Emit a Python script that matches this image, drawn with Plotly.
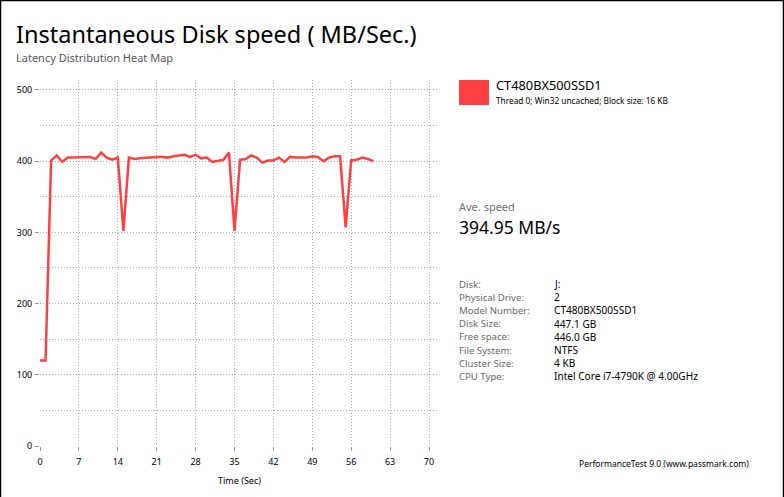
import plotly.graph_objects as go

# ---- data ----
time_sec = list(range(0, 61))
speed_mbs = [120, 120, 401, 408, 399, 405, 405, 405, 405, 406, 403, 412, 405, 402, 405, 302,
             405, 403, 404, 405, 406, 406, 406, 405, 407, 408, 409, 406, 409, 404, 405,
             399, 401, 402, 412, 302, 402, 403, 408, 405, 398, 401, 401, 405, 399, 406,
             405, 405, 405, 407, 406, 400, 405, 407, 407, 307, 401, 402, 405, 403, 400]
x_ticks = [0, 7, 14, 21, 28, 35, 42, 49, 56, 63, 70]
y_ticks = [0, 100, 200, 300, 400, 500]

device_name = "CT480BX500SSD1"
device_desc = "Thread 0; Win32 uncached; Block size: 16 KB"
avg_label = "Ave. speed"
avg_value = "394.95 MB/s"
info_labels = ["Disk:", "Physical Drive:", "Model Number:", "Disk Size:", "Free space:",
               "File System:", "Cluster Size:", "CPU Type:"]
info_values = ["J:", "2", "CT480BX500SSD1", "447.1 GB", "446.0 GB", "NTFS", "4 KB",
               "Intel Core i7-4790K @ 4.00GHz"]

W, H = 784, 497
L, R, T, B = 40, 345, 80, 51
PW, PH = W - L - R, H - T - B
FONT = "Noto Sans"
GRID = "#aaaaaa"

def px(x):
    return (x - L) / PW

def py(y):
    return (H - B - y) / PH

fig = go.Figure()
fig.add_trace(go.Scatter(x=time_sec, y=speed_mbs, mode="lines",
                         line=dict(color="#ff4040", width=2.5), hoverinfo="skip"))

axis_common = dict(showline=False, zeroline=False, ticks="outside", ticklen=4,
                   tickcolor="#999999", showgrid=True, gridcolor=GRID,
                   griddash="1px,2px", gridwidth=1,
                   tickfont=dict(family=FONT, size=9, color="#000000"))
fig.update_xaxes(range=[0, 71.8], tickvals=x_ticks, ticklabelstandoff=3, **axis_common,
                 title=dict(text="Time (Sec)", font=dict(family=FONT, size=9, color="#000"),
                            standoff=10))
fig.update_yaxes(range=[0, 514], tickvals=y_ticks, ticklabelstandoff=1, **axis_common,
                 minor=dict(dtick=50, showgrid=True, gridcolor=GRID, griddash="1px,2px",
                            ticks=""))

ann = []
ann.append(dict(x=px(14), y=py(34), text="Instantaneous Disk speed ( MB/Sec.)",
                xanchor="left", yanchor="middle",
                font=dict(family=FONT, size=23.5, color="#000")))
ann.append(dict(x=px(14), y=py(57), text="Latency Distribution Heat Map",
                xanchor="left", yanchor="middle",
                font=dict(family=FONT, size=11, color="#5a5560")))
ann.append(dict(x=px(494), y=py(85.5), text=device_name, xanchor="left", yanchor="middle",
                font=dict(family=FONT, size=12.8, color="#000")))
ann.append(dict(x=px(494), y=py(100.5), text=device_desc, xanchor="left", yanchor="middle",
                font=dict(family=FONT, size=8.3, color="#000")))
ann.append(dict(x=px(457), y=py(206), text=avg_label, xanchor="left", yanchor="middle",
                font=dict(family=FONT, size=11, color="#707070")))
ann.append(dict(x=px(457), y=py(227.5), text=avg_value, xanchor="left", yanchor="middle",
                font=dict(family=FONT, size=17.5, color="#000")))
for i, (lab, val) in enumerate(zip(info_labels, info_values)):
    yy = 284 + i * 13.2
    ann.append(dict(x=px(457), y=py(yy), text=lab, xanchor="left", yanchor="middle",
                    font=dict(family=FONT, size=9.6, color="#6a6a6a")))
    ann.append(dict(x=px(552), y=py(yy), text=val, xanchor="left", yanchor="middle",
                    font=dict(family=FONT, size=10.1, color="#000")))
ann.append(dict(x=px(577), y=py(463), text="PerformanceTest 9.0 (www.passmark.com)",
                xanchor="left", yanchor="middle",
                font=dict(family=FONT, size=8.5, color="#000")))
for a in ann:
    a.update(xref="paper", yref="paper", showarrow=False)

shapes = [
    dict(type="rect", xref="paper", yref="paper", x0=px(459), x1=px(489), y0=py(80), y1=py(105),
         fillcolor="#ff4040", line=dict(width=0)),
    dict(type="line", xref="paper", yref="paper", x0=px(0.5), x1=px(0.5), y0=py(0), y1=py(497),
         line=dict(color="#000", width=1.5)),
    dict(type="line", xref="paper", yref="paper", x0=px(0), x1=px(784), y0=py(0.5), y1=py(0.5),
         line=dict(color="#000", width=1.5)),
    dict(type="line", xref="paper", yref="paper", x0=px(783.5), x1=px(783.5), y0=py(0), y1=py(497),
         line=dict(color="#000", width=1.5)),
]

fig.update_layout(width=W, height=H, margin=dict(l=L, r=R, t=T, b=B, pad=0),
                  paper_bgcolor="#ffffff", plot_bgcolor="#ffffff", showlegend=False,
                  annotations=ann, shapes=shapes)
fig.write_html("out.html", config={"displayModeBar": False},
               post_script="document.body.style.margin='0px';document.body.style.padding='0px';")
